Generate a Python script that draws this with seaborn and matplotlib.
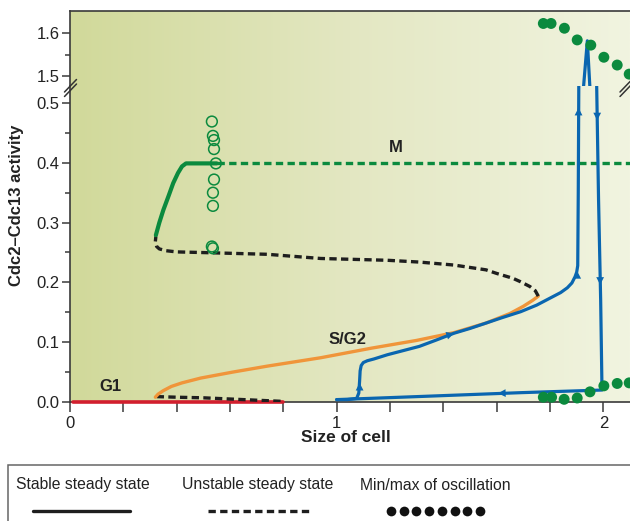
import numpy as np
import matplotlib
matplotlib.use("Agg")
import matplotlib.pyplot as plt
import seaborn as sns
from matplotlib.colors import LinearSegmentedColormap
from matplotlib.lines import Line2D
from matplotlib.patches import Rectangle

# ---- data ----
g1_x = [0.01, 0.80]
g1_y = [0.0, 0.0]

low_unstable_x = [0.325, 0.40, 0.50, 0.60, 0.70, 0.80]
low_unstable_y = [0.009, 0.008, 0.007, 0.005, 0.003, 0.001]

sg2_x = [0.32, 0.33, 0.35, 0.38, 0.42, 0.49, 0.61, 0.74, 0.94, 1.13, 1.30, 1.44, 1.56, 1.65, 1.70, 1.735, 1.756]
sg2_y = [0.008, 0.013, 0.019, 0.026, 0.032, 0.040, 0.050, 0.060, 0.074, 0.090, 0.103, 0.116, 0.132, 0.148, 0.160, 0.170, 0.177]

up_unstable_x = [1.756, 1.745, 1.725, 1.69, 1.66, 1.60, 1.56, 1.44, 1.31, 1.19, 0.94, 0.74, 0.49, 0.40, 0.36, 0.335, 0.325, 0.32, 0.322]
up_unstable_y = [0.177, 0.186, 0.193, 0.201, 0.207, 0.215, 0.221, 0.229, 0.234, 0.237, 0.240, 0.247, 0.250, 0.251, 0.253, 0.256, 0.260, 0.268, 0.277]

m_stable_x = [0.322, 0.335, 0.35, 0.37, 0.387, 0.405, 0.42, 0.435, 0.55]
m_stable_y = [0.279, 0.300, 0.321, 0.345, 0.366, 0.383, 0.394, 0.399, 0.399]

m_unstable_x = [0.55, 2.10]
m_unstable_y = [0.399, 0.399]

hopf_x = [0.532, 0.536, 0.540, 0.540, 0.547, 0.540, 0.536, 0.536, 0.532, 0.536]
hopf_y = [0.469, 0.445, 0.438, 0.423, 0.399, 0.372, 0.350, 0.328, 0.260, 0.257]

osc_max_x = [1.775, 1.804, 1.854, 1.902, 1.953, 2.002, 2.052, 2.097]
osc_max_y = [1.622, 1.622, 1.611, 1.584, 1.572, 1.544, 1.526, 1.505]
osc_min_x = [1.775, 1.806, 1.853, 1.902, 1.950, 2.002, 2.052, 2.097]
osc_min_y = [0.008, 0.008, 0.0045, 0.0067, 0.017, 0.027, 0.031, 0.032]

cycle_x = [1.0, 1.04, 1.075, 1.083, 1.086, 1.088, 1.092, 1.10, 1.115, 1.14, 1.19, 1.25, 1.31, 1.37, 1.44,
           1.50, 1.56, 1.62, 1.69, 1.75, 1.81, 1.84, 1.865, 1.882, 1.894, 1.900, 1.904, 1.906, 1.908]
cycle_y = [0.004, 0.004, 0.006, 0.015, 0.035, 0.052, 0.061, 0.066, 0.069, 0.072, 0.079, 0.086, 0.093, 0.103, 0.115,
           0.123, 0.132, 0.141, 0.151, 0.162, 0.176, 0.183, 0.191, 0.199, 0.2095, 0.217, 0.228, 0.35, 0.53]
cycle_down_x = [1.975, 1.982, 1.990, 1.995, 1.69, 1.30, 1.0]
cycle_down_y = [0.53, 0.34, 0.17, 0.020, 0.0156, 0.009, 0.004]
spike_x = [1.925, 1.940, 1.950]
spike_y = [1.470, 1.582, 1.470]

# ---- style ----
sns.set_style("ticks")
plt.rcParams["font.family"] = ["Liberation Sans", "DejaVu Sans"]

BLUE = "#0a66b0"
ORANGE = "#f0953a"
GREEN = "#0b8a3e"
RED = "#d21f2e"
DARK = "#1e1e1e"
SPINE = "#3a3a3a"
DASH = (0, (2.2, 1.3))

W, H = 630, 521
fig = plt.figure(figsize=(6.3, 5.21), dpi=100)
left = 70 / W
top_px, brk_px, bot_px = 11, 86.5, 402
ax_top = fig.add_axes([left, 1 - brk_px / H, 1 - left, (brk_px - top_px) / H])
ax = fig.add_axes([left, 1 - bot_px / H, 1 - left, (bot_px - brk_px) / H])

top_lim = (1.6 - (brk_px - 33) / 433, 1.6 + 22 / 433)
bot_lim = (0.0, 0.5 + (103 - brk_px) / 598)

bg = LinearSegmentedColormap.from_list("bg", ["#d1d99a", "#e3e7c2", "#f1f4e0"])
grad = np.linspace(0, 1, 256).reshape(1, -1)
for a, lim in ((ax_top, top_lim), (ax, bot_lim)):
    a.imshow(grad, extent=[0, 2.1, lim[0], lim[1]], aspect="auto", cmap=bg, zorder=0)
    a.set_xlim(0, 2.1)
    a.set_ylim(*lim)
    a.set_facecolor("none")
    for s in a.spines.values():
        s.set_color(SPINE)
        s.set_linewidth(1.2)
    a.spines["right"].set_visible(False)
    a.tick_params(axis="both", colors=SPINE, labelcolor="#222", labelsize=12,
                  length=6, width=1.1, pad=1.5)
    a.tick_params(which="minor", length=3.5, width=1.1, colors=SPINE)

ax_top.spines["bottom"].set_visible(False)
ax.spines["top"].set_visible(False)
ax_top.tick_params(axis="x", bottom=False, labelbottom=False)
ax_top.set_yticks([1.5, 1.6])
ax_top.set_yticks([1.55], minor=True)
ax_top.set_yticklabels(["1.5", "1.6"])

ax.set_yticks([0.0, 0.1, 0.2, 0.3, 0.4, 0.5])
ax.set_yticks([0.05, 0.15, 0.25, 0.35, 0.45], minor=True)
ax.set_yticklabels(["0.0", "0.1", "0.2", "0.3", "0.4", "0.5"])
xt = np.round(np.arange(0, 2.01, 0.2), 1)
ax.set_xticks(xt)
ax.set_xticklabels([str(int(v)) if v in (0, 1, 2) else "" for v in xt])
ax.tick_params(axis="x", length=7, pad=3)

# ---- curves ----
def line(a, x, y, color, lw, ls="-", z=3, clip=True):
    sns.lineplot(x=x, y=y, sort=False, estimator=None, ax=a, color=color, lw=lw,
                 linestyle=ls, zorder=z, clip_on=clip)

line(ax, g1_x, g1_y, RED, 2.6, clip=False)
line(ax, low_unstable_x, low_unstable_y, DARK, 2.4, DASH)
line(ax, sg2_x, sg2_y, ORANGE, 2.4)
line(ax, up_unstable_x, up_unstable_y, DARK, 2.4, DASH)
line(ax, m_stable_x, m_stable_y, GREEN, 3.0)
line(ax, m_unstable_x, m_unstable_y, GREEN, 2.4, DASH)
line(ax, cycle_x, cycle_y, BLUE, 2.3, z=4)
line(ax, cycle_down_x, cycle_down_y, BLUE, 2.3, z=4)
line(ax_top, spike_x, spike_y, BLUE, 2.3, z=4)

sns.scatterplot(x=hopf_x, y=hopf_y, ax=ax, s=60, facecolor="none", edgecolor=GREEN,
                linewidth=1.1, zorder=5)
sns.scatterplot(x=osc_min_x, y=osc_min_y, ax=ax, s=62, color=GREEN, edgecolor="none",
                zorder=5, clip_on=False)
sns.scatterplot(x=osc_max_x, y=osc_max_y, ax=ax_top, s=62, color=GREEN, edgecolor="none",
                zorder=5)

# arrowheads along the cycle
def arrow(a, x, y, dx, dy):
    a.annotate("", xy=(x + dx, y + dy), xytext=(x, y),
               arrowprops=dict(arrowstyle="-|>,head_length=0.55,head_width=0.28",
                               color=BLUE, lw=0, shrinkA=0, shrinkB=0, mutation_scale=10),
               zorder=6)

arrow(ax, 1.086, 0.020, 0.0, 0.012)
arrow(ax, 1.42, 0.112, 0.02, 0.003)
arrow(ax, 1.902, 0.205, 0.0, 0.014)
arrow(ax, 1.907, 0.478, 0.0, 0.014)
arrow(ax, 1.977, 0.485, 0.0, -0.014)
arrow(ax, 1.988, 0.210, 0.0, -0.014)
arrow(ax, 1.625, 0.0148, -0.02, -0.0003)

# branch labels
ax.text(1.22, 0.426, "M", fontsize=12, fontweight="bold", ha="center", va="center", color="#222")
ax.text(1.04, 0.105, "S/G2", fontsize=12, fontweight="bold", ha="center", va="center", color="#222")
ax.text(0.15, 0.026, "G1", fontsize=12, fontweight="bold", ha="center", va="center", color="#222")

# axis labels
fig.text(17 / W, 1 - 205 / H, "Cdc2\u2013Cdc13 activity", rotation=90, ha="center", va="center",
         fontsize=12, fontweight="bold", color="#222")
fig.text(346 / W, 1 - 438 / H, "Size of cell", ha="center", va="center",
         fontsize=12.5, fontweight="bold", color="#222")

# axis break marks
for x0, x1 in ((64.5, 76.5), (620, 632)):
    for off in (0, 4.5):
        fig.add_artist(Line2D([x0 / W, x1 / W], [1 - (92 + off) / H, 1 - (79.5 + off) / H],
                              color="#333", lw=1.1, transform=fig.transFigure))

# legend box
fig.add_artist(Rectangle((8 / W, -0.05), 1.2, 0.05 + 1 - 465 / H, transform=fig.transFigure,
                         facecolor="none", edgecolor="#666", lw=1.1))
ty = 1 - 485 / H
ly = 1 - 511 / H
fig.text(83 / W, ty, "Stable steady state", ha="center", va="center", fontsize=11.3, color="#222")
fig.text(258 / W, ty, "Unstable steady state", ha="center", va="center", fontsize=11.3, color="#222")
fig.text(435 / W, ty, "Min/max of oscillation", ha="center", va="center", fontsize=11.3, color="#222")
fig.add_artist(Line2D([33 / W, 130 / W], [ly, ly], color="#1e1e1e", lw=2.4, transform=fig.transFigure))
fig.add_artist(Line2D([208 / W, 313 / W], [ly, ly], color="#1e1e1e", lw=2.4, linestyle=DASH,
                      transform=fig.transFigure))
fig.add_artist(Line2D(np.linspace(391, 480, 8) / W, [ly] * 8, ls="", marker="o", ms=7,
                      color="#111", markeredgewidth=0, transform=fig.transFigure))

fig.savefig("out.png", dpi=100)
